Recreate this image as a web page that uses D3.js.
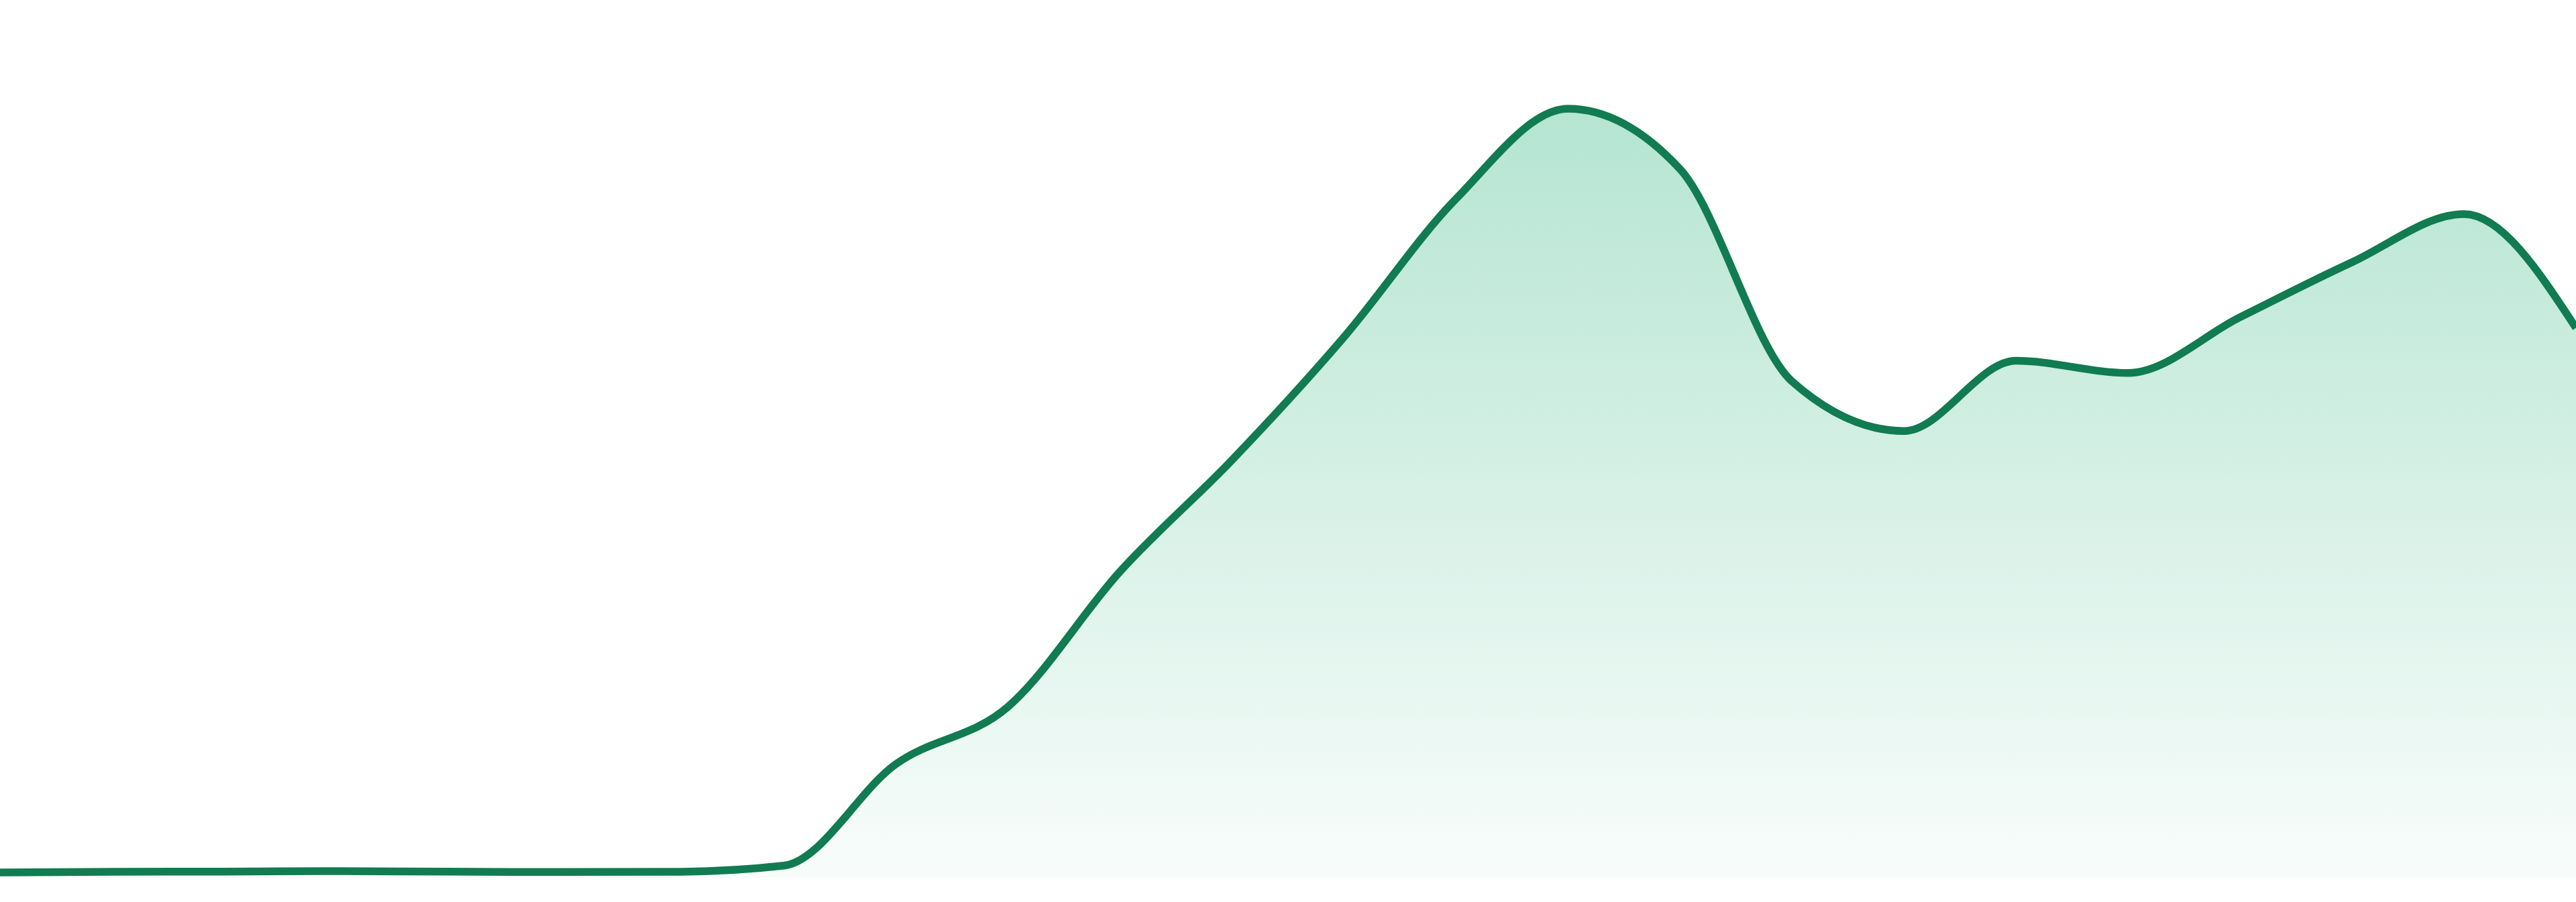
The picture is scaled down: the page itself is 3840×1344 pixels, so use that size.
<!DOCTYPE html>
<html>
<head>
<meta charset="utf-8">
<script src="https://cdn.jsdelivr.net/npm/d3@7"></script>
<style>
  html, body { margin: 0; padding: 0; background: #ffffff; }
  svg { display: block; }
</style>
</head>
<body>
<div id="chart"></div>
<script>
// series values, one per step along the x axis (peak = 100)
const values = [0, 0.08, 0.12, 0.18, 0.1, 0.06, 0.08, 0.9, 14.2, 21.7, 39.4, 54.0,
                70.1, 88.2, 100, 92.1, 64.3, 57.8, 67.0, 65.4, 72.7, 79.9, 86.2, 71.3]
const steps = d3.range(values.length)

const width = 3840
const height = 1344
const margin = { top: 162, right: 0, bottom: 36, left: 0 }
const lineColor = '#117b51'

const svg = d3.select('#chart').append('svg')
  .attr('width', width)
  .attr('height', height)

const x = d3.scaleLinear()
  .domain(d3.extent(steps))
  .range([margin.left, width - margin.right])

const y = d3.scaleLinear()
  .domain([0, d3.max(values)])
  .range([height - margin.bottom - 8, margin.top])

const grad = svg.append('defs').append('linearGradient')
  .attr('id', 'areaFill')
  .attr('x1', 0).attr('y1', 0).attr('x2', 0).attr('y2', 1)
grad.append('stop').attr('offset', '0%').attr('stop-color', 'rgb(16,170,110)').attr('stop-opacity', 0.31)
grad.append('stop').attr('offset', '100%').attr('stop-color', 'rgb(16,170,110)').attr('stop-opacity', 0.03)

const data = steps.map((s, i) => ({ step: s, value: values[i] }))

const area = d3.area()
  .x(d => x(d.step))
  .y0(height - margin.bottom)
  .y1(d => y(d.value))
  .curve(d3.curveMonotoneX)

const line = d3.line()
  .x(d => x(d.step))
  .y(d => y(d.value))
  .curve(d3.curveMonotoneX)

svg.append('path')
  .datum(data)
  .attr('d', area)
  .attr('fill', 'url(#areaFill)')

svg.append('path')
  .datum(data)
  .attr('d', line)
  .attr('fill', 'none')
  .attr('stroke', lineColor)
  .attr('stroke-width', 11.5)
  .attr('stroke-linejoin', 'round')
</script>
</body>
</html>
